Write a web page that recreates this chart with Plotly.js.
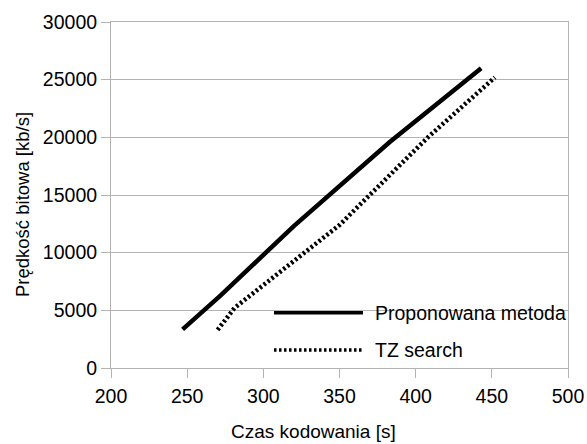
<!DOCTYPE html>
<html>
<head>
<meta charset="utf-8">
<script src="https://cdn.plot.ly/plotly-3.0.1.min.js"></script>
<style>
html,body{margin:0;padding:0;background:#fff;}
#chart{width:587px;height:444px;}
</style>
</head>
<body>
<div id="chart"></div>
<script>
// Data
var seriesNames = ["Proponowana metoda", "TZ search"];
var xProp = [247, 272, 320, 383, 443];
var yProp = [3350, 6300, 12300, 19600, 26000];
var xTz = [270, 281, 350, 408, 452];
var yTz = [3300, 5200, 12400, 20000, 25200];
var xTicks = [200, 250, 300, 350, 400, 450, 500];
var yTicks = [0, 5000, 10000, 15000, 20000, 25000, 30000];
var xTitle = "Czas kodowania [s]";
var yTitle = "Prędkość bitowa [kb/s]";

var FONT = "Liberation Sans, Arial, sans-serif";
var GRID = "#b3b3b3";
var FS = 19.5;

var traces = [
  {x: xProp, y: yProp, mode: "lines", name: seriesNames[0],
   line: {color: "#000", width: 4.5}, showlegend: false},
  {x: xTz, y: yTz, mode: "lines", name: seriesNames[1],
   line: {color: "#000", width: 4.5, dash: "2.5px,2.5px"}, showlegend: false}
];

var layout = {
  width: 587, height: 444,
  margin: {l: 111, r: 19, t: 22, b: 76},
  paper_bgcolor: "#fff", plot_bgcolor: "#fff",
  font: {family: FONT, size: FS, color: "#000"},
  showlegend: false,
  xaxis: {
    range: [200, 500], tickvals: xTicks, ticktext: xTicks.map(String),
    showgrid: false, zeroline: false,
    showline: true, mirror: true, linecolor: GRID, linewidth: 1,
    ticks: "outside", ticklen: 9, tickcolor: GRID, tickwidth: 1,
    ticklabelstandoff: 2,
    tickfont: {family: FONT, size: FS, color: "#000"},
    fixedrange: true
  },
  yaxis: {
    range: [0, 30000], tickvals: yTicks, ticktext: yTicks.map(String),
    showgrid: true, gridcolor: GRID, gridwidth: 1, zeroline: false,
    showline: true, mirror: true, linecolor: GRID, linewidth: 1,
    ticks: "outside", ticklen: 9, tickcolor: GRID, tickwidth: 1,
    tickfont: {family: FONT, size: FS, color: "#000"},
    fixedrange: true
  },
  shapes: [
    {type: "line", xref: "paper", yref: "paper", x0: 0.3567, x1: 0.5514, y0: 0.16, y1: 0.16,
     line: {color: "#000", width: 3.5}},
    {type: "line", xref: "paper", yref: "paper", x0: 0.3567, x1: 0.5514, y0: 0.052, y1: 0.052,
     line: {color: "#000", width: 3.5, dash: "2.5px,2.5px"}}
  ],
  annotations: [
    {xref: "paper", yref: "paper", x: 0.5726, y: 0.16, xanchor: "left", yanchor: "middle",
     text: seriesNames[0], showarrow: false, font: {family: FONT, size: FS, color: "#000"}},
    {xref: "paper", yref: "paper", x: 0.5726, y: 0.052, xanchor: "left", yanchor: "middle",
     text: seriesNames[1], showarrow: false, font: {family: FONT, size: FS, color: "#000"}},
    {xref: "paper", yref: "paper", x: (313 - 111) / 457, y: (368 - 431) / 346,
     xanchor: "center", yanchor: "middle", text: xTitle, showarrow: false,
     font: {family: FONT, size: 19, color: "#000"}},
    {xref: "paper", yref: "paper", x: (22 - 111) / 457, y: (368 - 205) / 346,
     xanchor: "center", yanchor: "middle", textangle: -90, text: yTitle, showarrow: false,
     font: {family: FONT, size: 18.5, color: "#000"}}
  ]
};

Plotly.newPlot("chart", traces, layout, {displayModeBar: false, staticPlot: true});
</script>
</body>
</html>
